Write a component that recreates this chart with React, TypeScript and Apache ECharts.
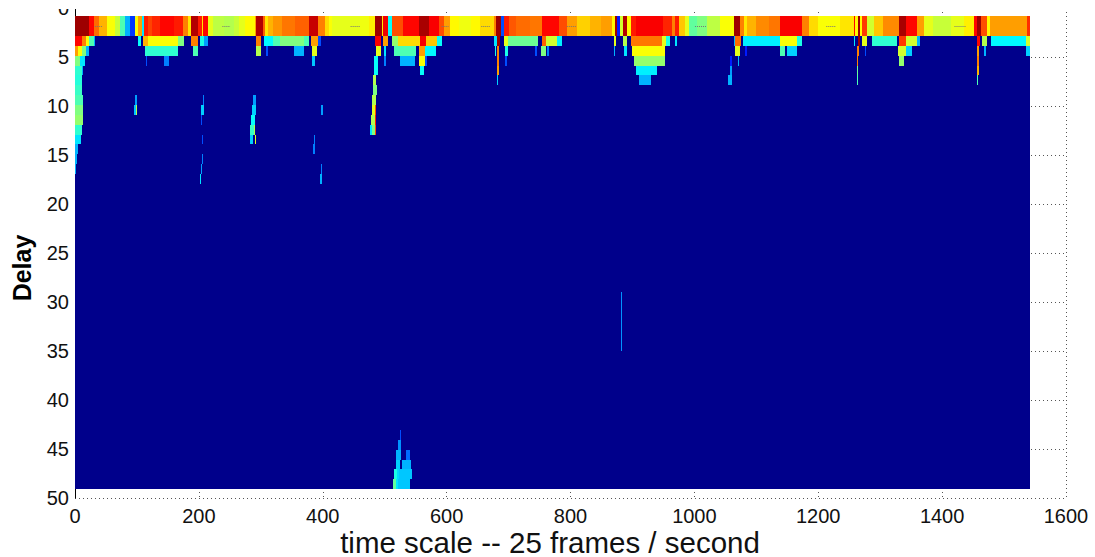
import React, { useEffect, useRef } from "react";
import * as echarts from "echarts";

// [startFrame, endFrame, jet level 0..1]
type Run = [number, number, number];

const xTicksMax = 1600;
const yTicksMax = 50;
const jetColors = ["#00008b", "#0000ff", "#0080ff", "#00ffff", "#80ff80", "#ffff00", "#ff8000", "#ff0000", "#800000"];
const background: Run[] = [[0, 1542, 0]];

const topBand: Run[] = [
  [0,22,.97],[22,30,.87],[30,38,.77],[38,51,.7],[51,65,.62],[65,73,.57],[73,81,.45],[81,89,.3],[89,97,.18],[97,102,.62],[102,108,.72],[108,111,.35],
  [111,118,.85],[118,125,.81],[125,137,.84],[137,160,.87],[160,175,.85],[175,183,.75],[183,188,.65],[188,199,.95],[199,205,.85],[205,207,.65],[207,215,.87],[215,223,.6],
  [223,240,.56],[240,256,.55],[256,265,.57],[265,275,.6],[275,291,.63],[291,293,.72],[293,303,.95],[303,307,.78],[307,311,.65],[311,320,.7],[320,335,.73],[335,355,.76],[355,377,.78],[377,393,.93],
  [393,404,.75],[404,410,.66],[410,415,.62],[415,460,.6],[460,475,.61],[475,485,.64],[485,495,.97],[495,498,.65],[498,505,.89],[505,511,.38],[511,530,.8],[530,555,.87],
  [555,571,.96],[571,587,.88],[587,595,.8],[595,606,.72],[606,620,.63],[620,640,.61],[640,654,.63],[654,676,.66],[676,680,.75],[680,687,.97],[687,692,.2],[692,700,.85],
  [700,712,.79],[712,735,.77],[735,754,.76],[754,781,.87],[781,794,.8],[794,810,.72],[810,832,.67],[832,850,.7],[850,867,.72],[867,872,.63],[872,875,.97],[875,880,.15],[880,885,.58],[885,891,.95],
  [891,897,.63],[897,905,.85],[905,950,.88],[950,964,.84],[964,969,.75],[969,975,.85],[975,985,.68],[985,991,.6],[991,1005,.47],[1005,1020,.5],[1020,1042,.56],[1042,1064,.62],[1064,1074,.97],
  [1074,1080,.75],[1080,1085,.65],[1085,1100,.7],[1100,1120,.74],[1120,1139,.76],[1139,1174,.88],[1174,1185,.75],[1185,1200,.66],[1200,1235,.62],[1235,1257,.65],[1257,1260,.87],[1260,1264,.63],[1264,1268,.97],
  [1268,1271,.63],[1271,1279,.82],[1279,1290,.58],[1290,1305,.68],[1305,1330,.74],[1330,1341,.96],[1341,1360,.87],[1360,1370,.72],[1370,1385,.6],[1385,1414,.57],[1414,1435,.6],[1435,1451,.64],
  [1451,1456,.87],[1456,1463,.97],[1463,1473,.8],[1473,1478,.63],[1478,1537,.72],[1537,1542,.83],
];
const row3: Run[] = [
  [0,11,.87],[11,18,.75],[18,23,.62],[23,30,.45],[30,32,.3],[102,106,.38],[110,118,.7],[118,167,.62],[167,176,.5],[188,198,.75],[202,208,.4],[208,215,.28],
  [293,301,.75],[305,320,.37],[320,331,.45],[331,369,.5],[369,377,.45],[381,392,.72],[393,397,.2],[485,494,.88],[497,505,.72],[512,522,.52],[522,557,.66],
  [557,566,.88],[566,585,.68],[585,592,.38],[677,681,.35],[681,686,.97],[692,699,.6],[699,748,.48],[754,760,.78],[760,778,.58],[778,787,.36],[871,874,.6],
  [885,891,.55],[897,948,.76],[948,954,.6],[954,961,.4],[968,972,.35],[1064,1066,.3],[1066,1075,.77],[1079,1139,.36],[1139,1166,.62],[1166,1174,.4],
  [1257,1260,.35],[1264,1268,.97],[1271,1278,.6],[1287,1327,.42],[1330,1341,.82],[1341,1360,.58],[1360,1365,.3],[1456,1461,.87],[1465,1472,.55],
  [1479,1536,.37],[1536,1542,.58],
];
const row4: Run[] = [
  [0,5,.72],[5,11,.62],[11,18,.5],[18,22,.3],[113,167,.42],[190,198,.45],[293,301,.55],[308,311,.2],[354,370,.3],[382,390,.6],[486,494,.6],[499,502,.35],
  [515,551,.45],[555,565,.72],[565,583,.37],[678,680,.4],[682,685,.75],[694,699,.4],[743,746,.2],[753,760,.5],[762,766,.25],[871,872,.3],[887,891,.35],
  [899,953,.62],[1066,1073,.6],[1082,1085,.15],[1139,1147,.45],[1149,1165,.33],[1263,1265,.75],[1275,1277,.2],[1328,1341,.58],[1341,1352,.33],
  [1456,1460,.72],[1467,1471,.3],[1536,1542,.33],
];
const row5: Run[] = [
  [0,8,.5],[8,16,.35],[115,117,.2],[144,152,.25],[382,388,.32],[483,490,.38],[499,502,.25],[524,549,.3],[556,565,.62],[565,568,.2],[682,685,.75],[695,697,.2],
  [902,952,.52],[1058,1060,.15],[1070,1072,.3],[1263,1264,.75],[1330,1339,.52],[1456,1460,.75],
];
const row6: Run[] = [[0,11,.42],[11,13,.3],[483,489,.38],[557,563,.38],[682,685,.72],[905,939,.36],[1058,1061,.28],[1262,1264,.48],[1456,1459,.7]];
const row7: Run[] = [[0,12,.41],[481,486,.55],[681,683,.33],[910,930,.3],[1055,1061,.3],[1262,1263,.45],[1456,1458,.45]];
const row8: Run[] = [[0,12,.43],[481,487,.5]];
const row9: Run[] = [[0,13,.45],[97,100,.28],[206,209,.25],[287,293,.28],[479,486,.55]];
const row10: Run[] = [[0,13,.5],[96,100,.32],[98,100,.55],[204,208,.33],[286,292,.33],[397,400,.28],[479,484,.6],[484,486,.8]];
const row11: Run[] = [[0,13,.52],[203,205,.2],[284,291,.38],[478,484,.55],[484,486,.85]];
const row12: Run[] = [[0,12,.42],[283,289,.43],[289,291,.55],[477,480,.35],[480,484,.5],[484,486,.8]];
const row13: Run[] = [[0,10,.35],[205,206,.2],[282,287,.33],[290,292,.6],[386,388,.25]];
const row14: Run[] = [[0,5,.3],[385,387,.25]];
const row15: Run[] = [[0,3,.3],[205,206,.25]];
const row16: Run[] = [[0,1,.3],[204,205,.28],[397,399,.25]];
const row17: Run[] = [[202,204,.35],[396,398,.3]];
const rows29to34: Run[] = [[881,883,.27]];
const row43: Run[] = [[525,527,.2]];
const row44: Run[] = [[522,526,.27]];
const row45: Run[] = [[519,526,.3],[535,541,.23]];
const row46: Run[] = [[519,525,.33],[528,542,.3]];
const row47: Run[] = [[515,520,.4],[520,523,.34],[523,544,.32]];
const row48: Run[] = [[514,518,.47],[518,522,.35],[522,541,.32]];
const midDashes: [number, number][] = [[32,45],[238,251],[445,461],[592,603],[656,670],[794,809],[1001,1019],[1213,1228],[1420,1438]];

const rowsByDelay: [number, Run[]][] = [
  [3,row3],[4,row4],[5,row5],[6,row6],[7,row7],[8,row8],[9,row9],[10,row10],[11,row11],[12,row12],[13,row13],[14,row14],[15,row15],[16,row16],[17,row17],
  [29,rows29to34],[30,rows29to34],[31,rows29to34],[32,rows29to34],[33,rows29to34],[34,rows29to34],
  [43,row43],[44,row44],[45,row45],[46,row46],[47,row47],[48,row48],
];

// each delay row's upper edge on the delay axis
const rowEdge = (k: number) => 2.86 + (k - 3) * 1.005;

const cells: number[][] = [];
background.forEach(([a, b, v]) => cells.push([a, b, rowEdge(3), rowEdge(49), v]));
topBand.forEach(([a, b, v]) => cells.push([a, b, 0.82, rowEdge(3), v]));
rowsByDelay.forEach(([k, runs]) => runs.forEach(([a, b, v]) => cells.push([a, b, rowEdge(k), rowEdge(k + 1), v])));

export default function App() {
  const ref = useRef<HTMLDivElement>(null);
  useEffect(() => {
    document.body.style.margin = "0";
    const chart = echarts.init(ref.current!, undefined, { renderer: "svg" });
    const font = "'Liberation Sans', Arial, sans-serif";
    chart.setOption({
      animation: false,
      backgroundColor: "#ffffff",
      grid: { left: 75, right: 29, top: 8, bottom: 59, containLabel: false, outerBoundsMode: "none" },
      visualMap: {
        show: false, type: "continuous", min: 0, max: 1, dimension: 4, seriesIndex: 0,
        inRange: { color: jetColors },
      },
      xAxis: {
        type: "value", min: 0, max: xTicksMax, interval: 200,
        name: "time scale -- 25 frames / second", nameLocation: "middle", nameGap: 29, nameMoveOverlap: false,
        nameTextStyle: { fontFamily: font, fontSize: 29.5, color: "#111", padding: [0, 41, 0, 0] },
        axisLine: { show: true, lineStyle: { color: "#000", width: 1 } },
        axisTick: { show: true, inside: true, length: 10, lineStyle: { color: "#333" } },
        axisLabel: {
          fontFamily: font, fontSize: 20, color: "#111", margin: 8, showMinLabel: true, showMaxLabel: true,
          formatter: (v: number) => String(v),
        },
        splitLine: { show: true, lineStyle: { color: "#555", type: [1, 3], width: 1 } },
      },
      yAxis: {
        type: "value", inverse: true, min: 0, max: yTicksMax, interval: 5,
        name: "Delay", nameLocation: "middle", nameGap: 41, nameMoveOverlap: false,
        nameTextStyle: { fontFamily: font, fontSize: 25, fontWeight: "bold", color: "#000", padding: [0, 30, 0, 0] },
        axisLine: { show: true, onZero: false, lineStyle: { color: "#000", width: 1 } },
        axisTick: { show: false },
        axisLabel: { fontFamily: font, fontSize: 20, color: "#111", margin: 6, showMinLabel: true, showMaxLabel: true },
        splitLine: { show: true, lineStyle: { color: "#555", type: [1, 3], width: 1 } },
      },
      series: [
        {
          type: "custom", coordinateSystem: "cartesian2d", silent: true, z: 2,
          encode: { x: [0, 1], y: [2, 3] },
          data: cells,
          renderItem: (_: any, api: any) => {
            const p0 = api.coord([api.value(0), api.value(2)]);
            const p1 = api.coord([api.value(1), api.value(3)]);
            const x = Math.round(p0[0]);
            const y = Math.round(p0[1]);
            return {
              type: "rect",
              shape: { x, y, width: Math.max(1, Math.round(p1[0]) - x), height: Math.max(1, Math.round(p1[1]) - y) },
              style: { fill: api.visual("color"), stroke: null },
            };
          },
        },
        {
          type: "custom", coordinateSystem: "cartesian2d", silent: true, z: 3,
          encode: { x: [0, 1] },
          data: midDashes,
          renderItem: (_: any, api: any) => {
            const p0 = api.coord([api.value(0), 1.8]);
            const p1 = api.coord([api.value(1), 1.8]);
            return {
              type: "line",
              shape: { x1: p0[0], y1: Math.round(p0[1]) + 0.5, x2: p1[0], y2: Math.round(p0[1]) + 0.5 },
              style: { stroke: "#777", lineWidth: 1, lineDash: [1, 1] },
            };
          },
        },
      ],
      graphic: [
        { type: "rect", left: 0, top: 0, z: 100, shape: { width: 1095, height: 9 }, style: { fill: "#fff" }, silent: true },
      ],
    });
    return () => chart.dispose();
  }, []);
  return <div ref={ref} style={{ width: 1095, height: 557 }} />;
}
